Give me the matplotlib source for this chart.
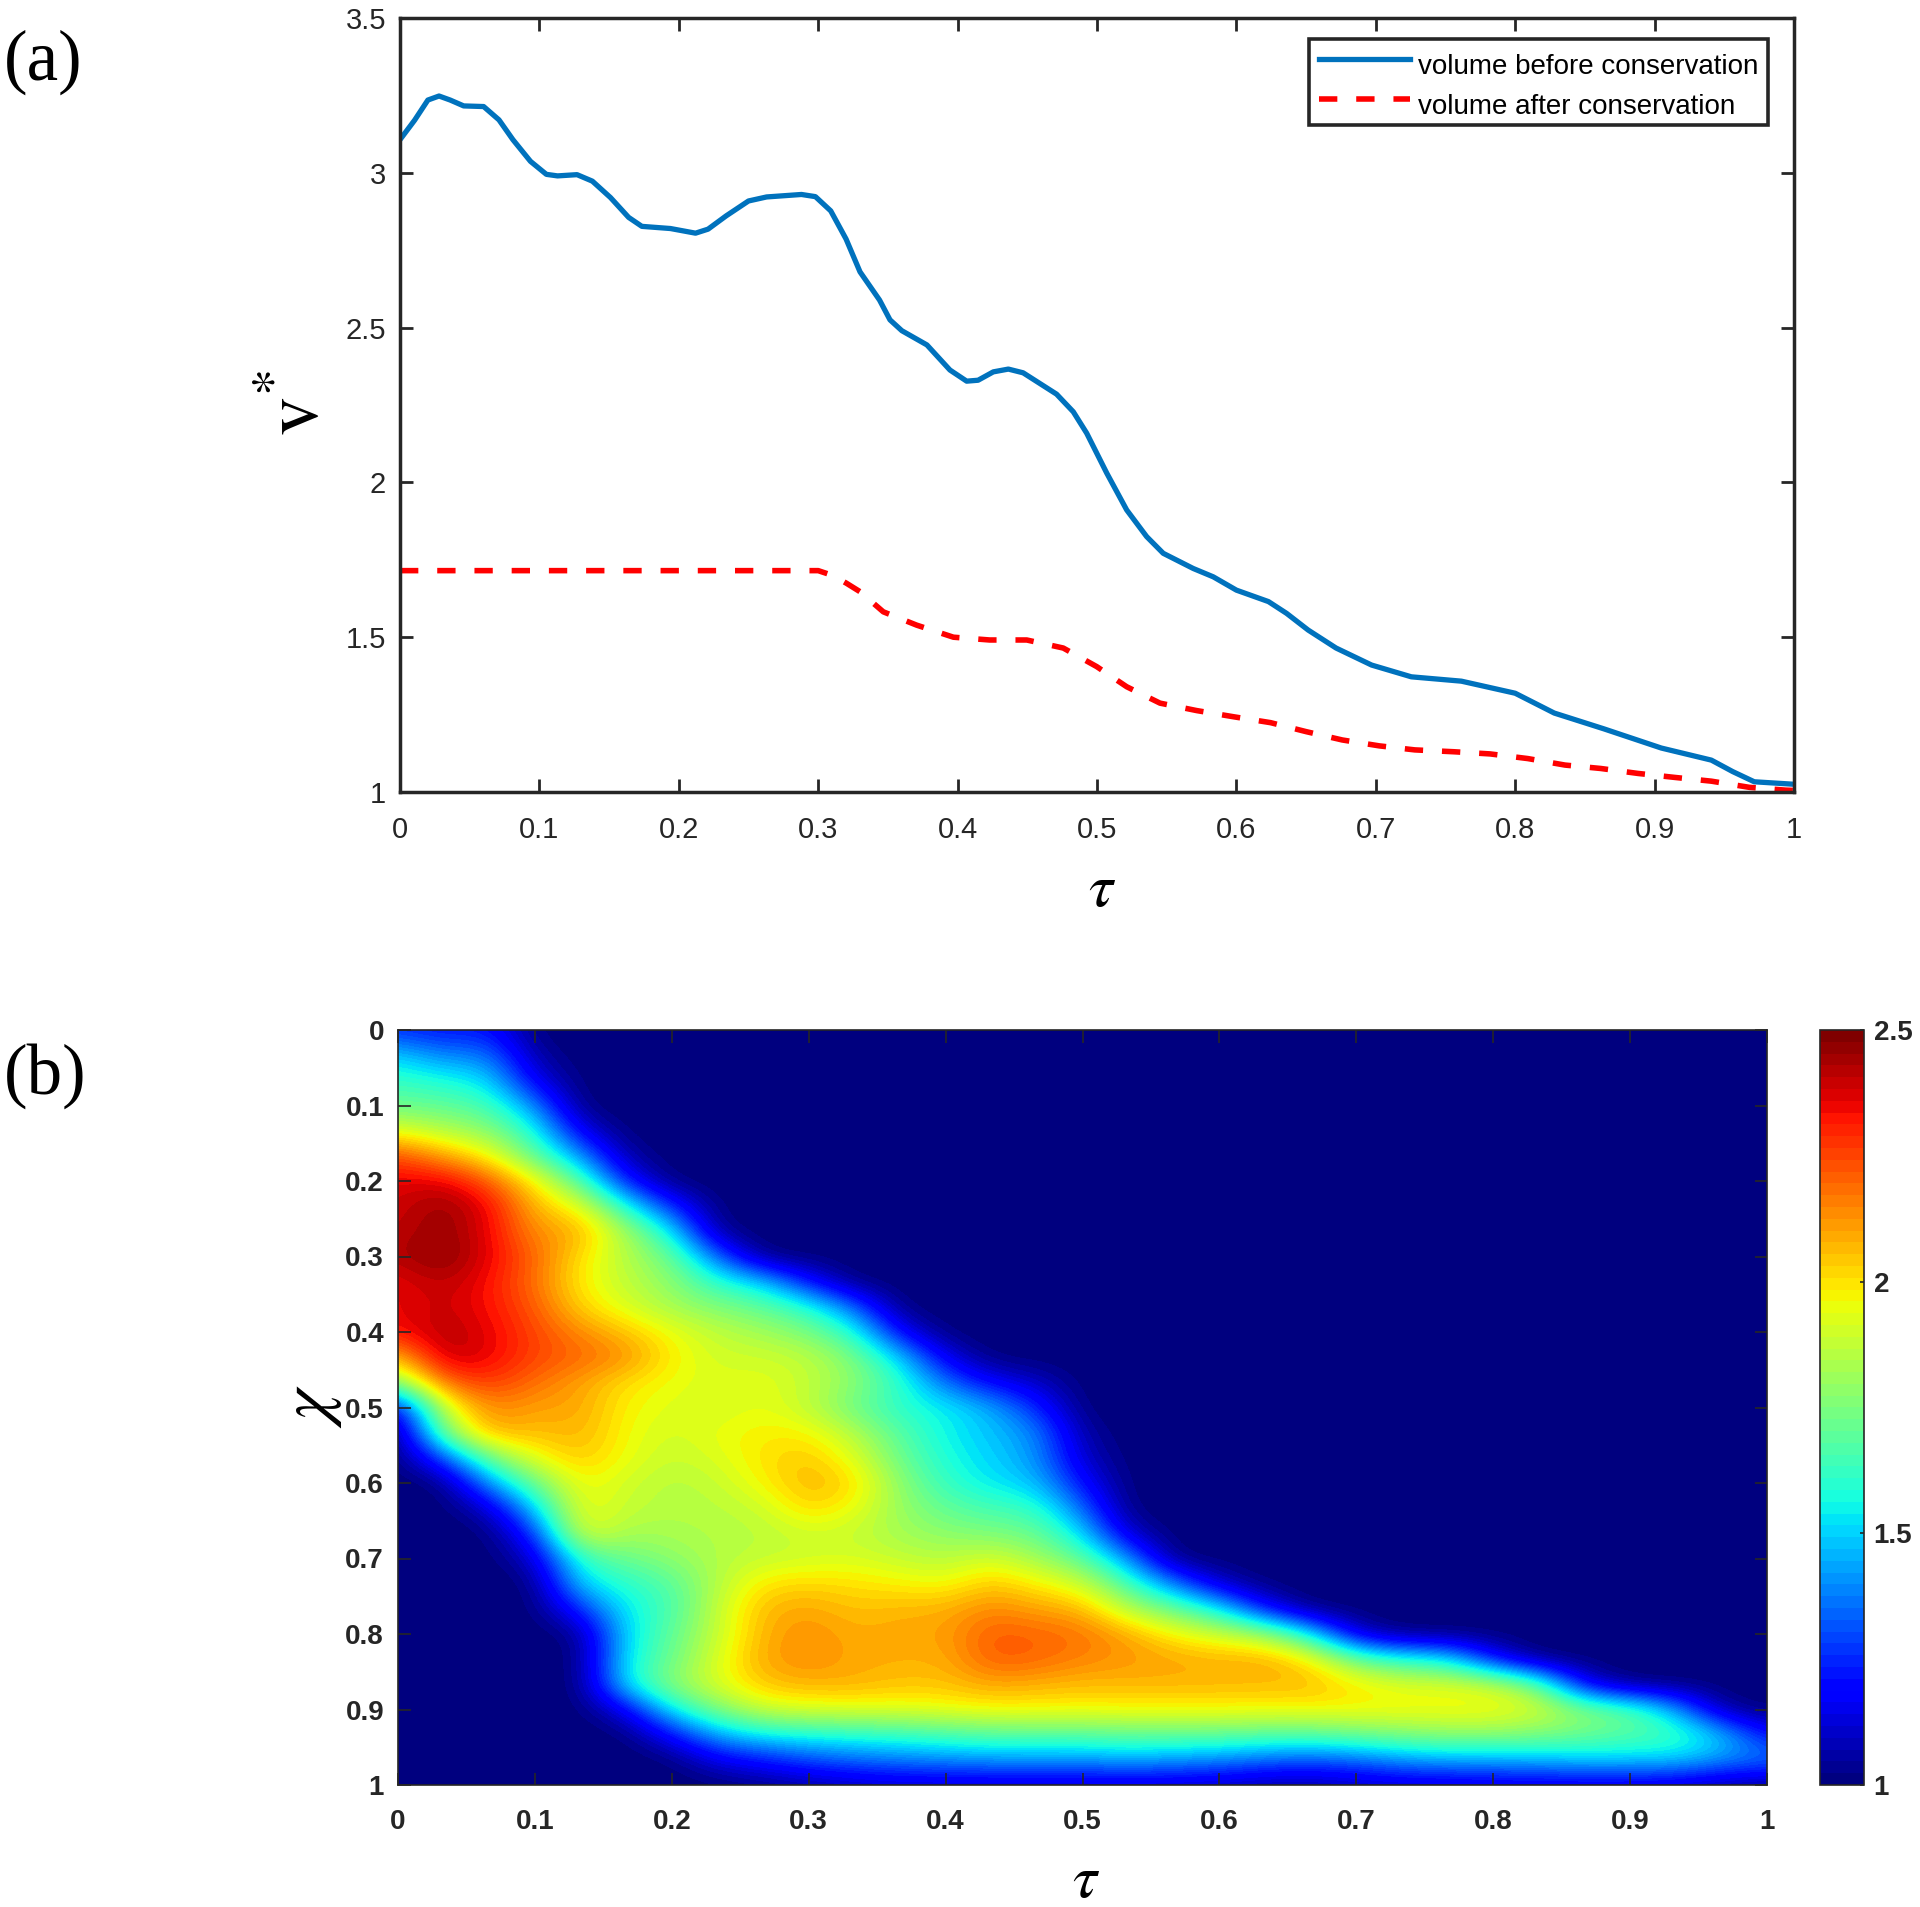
import matplotlib
matplotlib.use('Agg')
import matplotlib.pyplot as plt
import numpy as np

plt.rcParams['font.family'] = ['Liberation Sans', 'DejaVu Sans']
plt.rcParams['mathtext.fontset'] = 'stix'

W, H = 1920, 1907
DARK = '#262626'

tau_before = [0, .0105, .02, .028, .036, .0457, .06, .071, .081, .0936, .105, .113, .127, .138, .151, .164, .1735,
              .194, .212, .221, .234, .25, .263, .288, .298, .309, .32, .33, .344, .3515, .36, .378, .3945, .4065,
              .4147, .4256, .4364, .447, .471, .483, .4926, .507, .5213, .5356, .5475, .569, .5834, .6, .623, .636,
              .6515, .6715, .697, .7255, .7614, .8, .828, .8636, .9048, .9407, .956, .9715, 1]
v_before = [3.107, 3.17, 3.235, 3.248, 3.235, 3.216, 3.214, 3.171, 3.107, 3.037, 2.995, 2.99, 2.994, 2.973, 2.92,
            2.856, 2.827, 2.82, 2.805, 2.818, 2.861, 2.909, 2.922, 2.93, 2.923, 2.877, 2.786, 2.68, 2.589, 2.525,
            2.49, 2.444, 2.363, 2.327, 2.33, 2.357, 2.366, 2.354, 2.285, 2.228, 2.159, 2.03, 1.911, 1.825, 1.771,
            1.722, 1.695, 1.652, 1.615, 1.577, 1.523, 1.465, 1.41, 1.372, 1.358, 1.319, 1.255, 1.204, 1.142, 1.103,
            1.066, 1.033, 1.025]
tau_after = [0, .3, .31, .32, .33, .3467, .3706, .397, .423, .4496, .4758, .4998, .5213, .5452, .5715, .598, .6245,
             .65, .676, .7025, .728, .756, .782, .809, .8357, .8613, .888, .9147, .9407, .968, .994, 1]
v_after = [1.715, 1.715, 1.70, 1.675, 1.647, 1.582, 1.539, 1.50, 1.491, 1.491, 1.465, 1.405, 1.34, 1.287, 1.263,
           1.243, 1.224, 1.195, 1.168, 1.149, 1.136, 1.13, 1.123, 1.108, 1.087, 1.076, 1.06, 1.047, 1.035, 1.015,
           1.006, 1.005]

# rows are chi = 0, 1/30, ... 1, columns are tau = 0, 1/30, ... 1, cut short where the rest is all 1
field_rows = [
    [1.25, 1.2, 1.22, 1.0],
    [1.5, 1.38, 1.38, 1.05],
    [1.62, 1.58, 1.52, 1.15],
    [1.72, 1.7, 1.65, 1.4],
    [1.93, 1.85, 1.78, 1.58, 1.15],
    [2.25, 2.1, 1.97, 1.7, 1.42, 1.05],
    [2.36, 2.38, 2.22, 1.98, 1.68, 1.22],
    [2.38, 2.47, 2.36, 2.06, 1.95, 1.58, 1.25],
    [2.4, 2.47, 2.36, 2.12, 2.1, 1.82, 1.55, 1.02],
    [2.42, 2.5, 2.36, 2.2, 2.0, 1.85, 1.72, 1.35],
    [2.35, 2.42, 2.33, 2.18, 1.98, 1.87, 1.78, 1.6, 1.5, 1.2],
    [2.35, 2.4, 2.33, 2.22, 2.02, 1.92, 1.82, 1.76, 1.7, 1.6, 1.35],
    [2.33, 2.43, 2.36, 2.25, 2.14, 2.05, 1.95, 1.87, 1.82, 1.75, 1.6, 1.18],
    [2.05, 2.42, 2.36, 2.25, 2.2, 2.14, 1.98, 1.9, 1.9, 1.87, 1.75, 1.5, 1.15],
    [1.75, 2.2, 2.28, 2.18, 2.1, 2.0, 1.95, 1.92, 1.94, 1.88, 1.78, 1.62, 1.35, 1.18, 1.1],
    [1.15, 1.9, 2.15, 2.1, 2.1, 1.97, 1.93, 1.9, 1.95, 1.87, 1.72, 1.6, 1.55, 1.45, 1.25],
    [1, 1.75, 2.1, 2.05, 2.08, 1.96, 1.9, 1.95, 1.98, 1.98, 1.85, 1.68, 1.55, 1.48, 1.4, 1.05],
    [1, 1.3, 1.72, 1.95, 2.05, 1.95, 1.88, 1.92, 2.0, 2.05, 1.93, 1.72, 1.58, 1.5, 1.42, 1.1],
    [1, 1, 1.42, 1.72, 1.98, 1.9, 1.85, 1.88, 1.97, 2.08, 2.02, 1.78, 1.62, 1.53, 1.48, 1.2],
    [1, 1, 1.1, 1.5, 1.97, 1.88, 1.85, 1.86, 1.89, 2.03, 1.95, 1.8, 1.7, 1.65, 1.62, 1.35],
    [1, 1, 1, 1.25, 1.96, 1.82, 1.83, 1.85, 1.86, 1.9, 1.88, 1.82, 1.78, 1.75, 1.72, 1.52, 1.1],
    [1, 1, 1, 1.1, 1.62, 1.72, 1.78, 1.85, 1.88, 1.9, 1.92, 1.88, 1.85, 1.92, 1.82, 1.7, 1.42],
    [1, 1, 1, 1, 1.52, 1.6, 1.68, 1.85, 2.0, 2.02, 2.0, 1.98, 1.95, 2.05, 1.98, 1.9, 1.65, 1.38, 1.1],
    [1, 1, 1, 1, 1.25, 1.55, 1.65, 1.88, 2.07, 2.1, 2.05, 2.07, 2.08, 2.15, 2.1, 2.08, 1.85, 1.72, 1.55, 1.2],
    [1, 1, 1, 1, 1.02, 1.52, 1.7, 1.88, 2.08, 2.14, 2.08, 2.1, 2.1, 2.22, 2.2, 2.18, 2.1, 1.97, 1.9, 1.82, 1.55, 1.1],
    [1, 1, 1, 1, 1, 1.55, 1.72, 1.92, 2.1, 2.14, 2.09, 2.08, 2.08, 2.22, 2.2, 2.15, 2.12, 2.1, 2.08, 2.1, 2.0,
     1.72, 1.6, 1.55, 1.2],
    [1, 1, 1, 1, 1, 1.55, 1.78, 1.92, 2.05, 2.08, 2.08, 2.05, 2.05, 2.1, 2.08, 2.06, 2.07, 2.07, 2.07, 2.06, 2.07,
     2.0, 1.93, 1.93, 1.9, 1.72, 1.15],
    [1, 1, 1, 1, 1, 1.15, 1.55, 1.75, 1.9, 1.92, 1.93, 1.93, 1.95, 1.97, 1.97, 1.97, 1.97, 1.97, 1.97, 1.97, 1.97,
     1.97, 1.97, 1.97, 1.97, 1.92, 1.78, 1.7, 1.45, 1.05],
    [1, 1, 1, 1, 1, 1, 1.2, 1.45, 1.55, 1.58, 1.6, 1.62, 1.65, 1.68, 1.68, 1.68, 1.7, 1.7, 1.7, 1.68, 1.68, 1.72,
     1.75, 1.78, 1.78, 1.75, 1.72, 1.68, 1.65, 1.5, 1.2],
    [1, 1, 1, 1, 1, 1, 1, 1.15, 1.22, 1.3, 1.35, 1.38, 1.4, 1.42, 1.42, 1.42, 1.45, 1.42, 1.4, 1.35, 1.32, 1.35,
     1.42, 1.45, 1.45, 1.47, 1.5, 1.5, 1.5, 1.42, 1.38],
    [1, 1, 1, 1, 1, 1, 1, 1, 1.02, 1.05, 1.08, 1.1, 1.1, 1.1, 1.1, 1.1, 1.1, 1.1, 1.08, 1.05, 1.05, 1.08, 1.1, 1.1,
     1.12, 1.12, 1.12, 1.12, 1.1, 1.05, 1.02],
]
field = np.ones((31, 31))
for i, row in enumerate(field_rows):
    field[i, :len(row)] = row

x_ticks = [0, .1, .2, .3, .4, .5, .6, .7, .8, .9, 1]
x_labels = ['0', '0.1', '0.2', '0.3', '0.4', '0.5', '0.6', '0.7', '0.8', '0.9', '1']
v_ticks = [1, 1.5, 2, 2.5, 3, 3.5]
v_labels = ['1', '1.5', '2', '2.5', '3', '3.5']
bar_ticks = [1, 1.5, 2, 2.5]
bar_labels = ['1', '1.5', '2', '2.5']


def px_axes(fig, left, top, right, bottom):
    return fig.add_axes([left / W, 1 - bottom / H, (right - left) / W, (bottom - top) / H])


fig = plt.figure(figsize=(W / 100, H / 100), dpi=100)

# top panel
ax1 = px_axes(fig, 400, 18, 1794, 792)
ax1.plot(tau_before, v_before, color='#0072BD', lw=3.8, label='volume before conservation')
ax1.plot(tau_after, v_after, color='red', lw=4, ls=(0, (3.3, 3.4)), label='volume after conservation')
ax1.set_xlim(0, 1)
ax1.set_ylim(1, 3.5)
ax1.set_xticks(x_ticks, x_labels)
ax1.set_yticks(v_ticks, v_labels)
ax1.tick_params(direction='in', length=9.5, width=2, top=True, right=True, labelsize=21,
                labelcolor=DARK, color=DARK)
ax1.tick_params(axis='x', pad=17)
ax1.tick_params(axis='y', pad=10)
for s in ax1.spines.values():
    s.set_linewidth(2.5)
    s.set_color(DARK)
leg = ax1.legend(loc='upper right', bbox_to_anchor=(0.9815, 0.9725), borderaxespad=0, fontsize=20,
                 fancybox=False, framealpha=1, edgecolor=DARK, borderpad=0.35, labelspacing=0.5,
                 handlelength=3.27, handletextpad=0.3)
leg.get_frame().set_linewidth(2.6)
for t in leg.get_texts():
    t.set_y(-5)
fig.text(1102 / W, 1 - 890 / H, r'$\tau$', fontsize=44, ha='center', va='center')
fig.text(297 / W, 1 - 403 / H, r'$\mathrm{v}^{*}$', fontsize=56, rotation=90, ha='center', va='center')

# bottom panel
ax2 = px_axes(fig, 398, 1030, 1767, 1785)
cmap = plt.get_cmap('jet', 64)
half = 1 / 60
im = ax2.imshow(field, cmap=cmap, vmin=1, vmax=2.5, aspect='auto', interpolation='bicubic',
                extent=(-half, 1 + half, 1 + half, -half))
ax2.set_xlim(0, 1)
ax2.set_ylim(1, 0)
ax2.set_xticks(x_ticks, x_labels)
ax2.set_yticks(x_ticks, x_labels)
ax2.tick_params(direction='in', length=9, width=1.2, top=True, right=True, labelsize=20, color=DARK,
                labelcolor=DARK)
ax2.tick_params(axis='x', pad=17)
ax2.tick_params(axis='y', pad=10)
for lab in ax2.get_xticklabels() + ax2.get_yticklabels():
    lab.set_fontweight('bold')
for s in ax2.spines.values():
    s.set_linewidth(1.2)
    s.set_color(DARK)
fig.text(1086 / W, 1 - 1882 / H, r'$\tau$', fontsize=44, ha='center', va='center')
fig.text(312 / W, 1 - 1406 / H, r'$\chi$', fontsize=50, rotation=90, ha='center', va='center')

cax = px_axes(fig, 1820, 1030, 1864, 1785)
cb = fig.colorbar(im, cax=cax)
cb.set_ticks(bar_ticks, labels=bar_labels)
cb.ax.tick_params(direction='in', length=3, width=1.2, labelsize=20, pad=7, color=DARK, labelcolor=DARK)
for lab in cb.ax.get_yticklabels():
    lab.set_fontweight('bold')
cb.outline.set_linewidth(1.2)
cb.outline.set_edgecolor(DARK)

# panel letters
fig.text(4 / W, 1 - 62 / H, '(a)', family='Liberation Serif', fontsize=51, va='center')
fig.text(4 / W, 1 - 1076 / H, '(b)', family='Liberation Serif', fontsize=51, va='center')

fig.savefig('out.png', dpi=100)
